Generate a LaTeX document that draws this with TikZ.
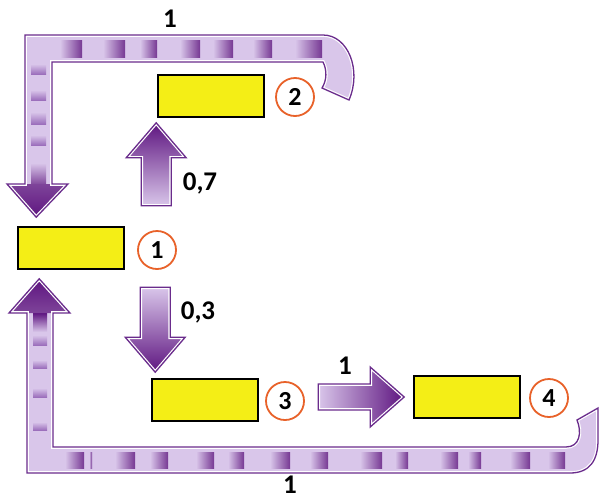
\documentclass[tikz,border=0pt]{standalone}
\usepackage{fontspec}
\setmainfont{Carlito}
\usetikzlibrary{calc}
\definecolor{lav}{HTML}{D9C6EA}
\definecolor{dpurp}{HTML}{5E1580}
\definecolor{mpurp}{HTML}{9C6FBC}
\definecolor{edgep}{HTML}{6A2C8C}
\definecolor{boxyel}{HTML}{F4EE16}
\definecolor{ringor}{HTML}{E8622A}
\tikzset{
  box/.style={draw=black, line width=1.6pt, fill=boxyel, minimum width=106pt, minimum height=42pt, inner sep=0pt},
  ring/.style={circle, draw=ringor, line width=1.8pt, fill=white, minimum size=38pt, inner sep=0pt, font=\fontsize{26}{28}\selectfont\bfseries},
  lbl/.style={font=\fontsize{27}{30}\selectfont\bfseries, inner sep=0pt},
  outl/.style={postaction={draw=white, line width=3.6pt, line join=miter}, postaction={draw=edgep, line width=1.3pt, line join=miter}},
  hblock/.style={left color=lav, right color=dpurp!85},
  vblock/.style={top color=lav, bottom color=mpurp},
}
\begin{document}
\begin{tikzpicture}[x=1pt,y=-1pt]
\useasboundingbox (0,0) rectangle (599,501);

% boxes
\node[box] (b1) at (71,248) {};
\node[box] (b2) at (211,96) {};
\node[box] (b3) at (205,400) {};
\node[box] (b4) at (467,397) {};
% rings
\node[ring] (c1) at (157,250) {1};
\node[ring] (c2) at (295,97) {2};
\node[ring] (c3) at (285,401) {3};
\node[ring] (c4) at (549,398) {4};

% named arrow tips
\coordinate (u1) at ($(b2.south west)+(-1,5)$);
\coordinate (d1) at ($(b3.north west)+(4,-6)$);
\coordinate (r1) at ($(b4.west)+(-9,0)$);
\coordinate (lt) at ($(b1.north west)+(19,-9)$);
\coordinate (lb) at ($(b1.south west)+(22,9)$);

% up arrow 0,7
\path[top color=dpurp, bottom color=lav, outl]
  (u1) -- ++(30,35) -- ++(-15,0) -- ++(0,48) -- ++(-30,0) -- ++(0,-48) -- ++(-15,0) -- cycle;
% down arrow 0,3
\path[top color=lav, bottom color=dpurp, outl]
  (d1) -- ++(-30,-35) -- ++(15,0) -- ++(0,-50) -- ++(30,0) -- ++(0,50) -- ++(15,0) -- cycle;
% right arrow 1
\path[left color=lav, right color=dpurp, outl]
  (r1) -- ++(-34,-30) -- ++(0,17) -- ++(-52,0) -- ++(0,26) -- ++(52,0) -- ++(0,17) -- cycle;

% top loop arrow
\fill[lav] (lt) -- (68,184) -- (52,184) -- (52,62) -- (323,62)
  .. controls (327,70) and (327,80) .. (322,88) -- (349,100)
  .. controls (362,70) and (348,35) .. (323,35) -- (25,35) -- (25,184) -- (7,184) -- cycle;
\foreach \a/\b in {60/82,103/125,140/157,180/200,213/233,253/272,295/322}
  \shade[hblock] (\a,40) rectangle (\b,57);
\foreach \a/\b in {64/74,90/100,112/124,135/145}
  \shade[vblock] (31,\a) rectangle (46,\b);
\shade[top color=lav, bottom color=dpurp!80] (31,163) rectangle (46,185);
\shade[top color=dpurp!80, bottom color=dpurp] (lt) -- (68,184) -- (7,184) -- cycle;
\path[outl] (lt) -- (68,184) -- (52,184) -- (52,62) -- (323,62)
  .. controls (327,70) and (327,80) .. (322,88) -- (349,100)
  .. controls (362,70) and (348,35) .. (323,35) -- (25,35) -- (25,184) -- (7,184) -- cycle;

% bottom loop arrow
\fill[lav] (lb) -- (70,313) -- (53,313) -- (53,447) -- (566,447)
  .. controls (580,447) and (582,432) .. (577,420) -- (598,408) -- (598,440)
  .. controls (598,460) and (590,473) .. (570,473) -- (27,473) -- (27,313) -- (9,313) -- cycle;
\foreach \a/\b in {65/84,89/92,115/135,150/168,196/214,228/244,270/290,310/328,360/382,395/408,440/458,468/481,510/530,548/565}
  \shade[hblock] (\a,452) rectangle (\b,468);
\foreach \a/\b in {335/345,360/368,388/397,422/430}
  \shade[vblock] (33,\a) rectangle (47,\b);
\shade[top color=dpurp, bottom color=lav] (33,313) rectangle (47,332);
\shade[top color=dpurp, bottom color=dpurp!80] (lb) -- (70,313) -- (9,313) -- cycle;
\path[outl] (lb) -- (70,313) -- (53,313) -- (53,447) -- (566,447)
  .. controls (580,447) and (582,432) .. (577,420) -- (598,408) -- (598,440)
  .. controls (598,460) and (590,473) .. (570,473) -- (27,473) -- (27,313) -- (9,313) -- cycle;

% labels
\node[lbl] (l1t) at (170,19) {1};
\node[lbl] (l07) at (200,183) {0,7};
\node[lbl] (l03) at (198,312) {0,3};
\node[lbl] (l1r) at (345,366) {1};
\node[lbl] (l1b) at (290,485) {1};
\end{tikzpicture}
\end{document}
